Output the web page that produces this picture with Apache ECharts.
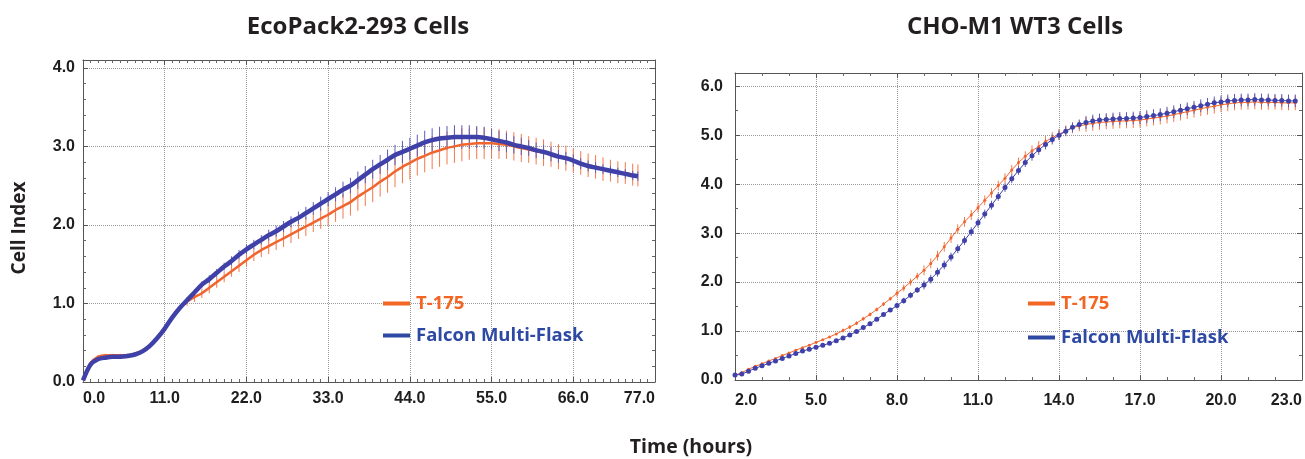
<!DOCTYPE html>
<html>
<head>
<meta charset="utf-8">
<script src="https://cdn.jsdelivr.net/npm/echarts@6/dist/echarts.min.js"></script>
<style>
  html, body { margin: 0; padding: 0; background: #fff; }
  #chart { width: 1305px; height: 459px; }
</style>
</head>
<body>
<div id="chart"></div>
<script>
// ==================== Data: EcoPack2-293 (left panel), hourly ====================
const ecoTimes = [
  0, 1, 2, 3, 4, 5, 6, 7, 8, 9, 10, 11, 12, 13, 14, 15, 16, 17, 18, 19,
  20, 21, 22, 23, 24, 25, 26, 27, 28, 29, 30, 31, 32, 33, 34, 35, 36, 37, 38, 39,
  40, 41, 42, 43, 44, 45, 46, 47, 48, 49, 50, 51, 52, 53, 54, 55, 56, 57, 58, 59,
  60, 61, 62, 63, 64, 65, 66, 67, 68, 69, 70, 71, 72, 73, 74, 74.7
];
const ecoT175 = [
  0.02, 0.24, 0.32, 0.34, 0.34, 0.34, 0.34, 0.36, 0.40, 0.47, 0.56, 0.68, 0.82, 0.93, 1.02, 1.08, 1.13, 1.20, 1.27, 1.34,
  1.41, 1.48, 1.55, 1.62, 1.68, 1.73, 1.78, 1.83, 1.88, 1.93, 1.98, 2.03, 2.08, 2.13, 2.19, 2.24, 2.29, 2.36, 2.42, 2.48,
  2.55, 2.61, 2.68, 2.74, 2.79, 2.84, 2.88, 2.92, 2.95, 2.98, 3.00, 3.02, 3.03, 3.04, 3.04, 3.04, 3.03, 3.02, 3.00, 2.98,
  2.96, 2.94, 2.92, 2.90, 2.87, 2.85, 2.82, 2.79, 2.76, 2.74, 2.71, 2.69, 2.67, 2.66, 2.64, 2.63
];
const ecoT175Sd = [
  0.02, 0.02, 0.02, 0.02, 0.02, 0.02, 0.02, 0.02, 0.02, 0.02, 0.02, 0.02, 0.03, 0.03, 0.05, 0.06, 0.06, 0.07, 0.07, 0.07,
  0.07, 0.08, 0.08, 0.08, 0.09, 0.10, 0.10, 0.11, 0.11, 0.11, 0.12, 0.12, 0.13, 0.14, 0.15, 0.16, 0.17, 0.18, 0.18, 0.19,
  0.19, 0.20, 0.20, 0.21, 0.21, 0.21, 0.21, 0.21, 0.21, 0.21, 0.21, 0.21, 0.20, 0.20, 0.20, 0.19, 0.19, 0.18, 0.18, 0.18,
  0.17, 0.17, 0.17, 0.16, 0.16, 0.16, 0.15, 0.15, 0.15, 0.15, 0.15, 0.14, 0.14, 0.14, 0.14, 0.14
];
const ecoFalcon = [
  0.02, 0.22, 0.29, 0.31, 0.32, 0.32, 0.33, 0.35, 0.39, 0.46, 0.56, 0.68, 0.82, 0.94, 1.04, 1.14, 1.24, 1.31, 1.39, 1.47,
  1.54, 1.62, 1.69, 1.75, 1.81, 1.87, 1.92, 1.98, 2.04, 2.09, 2.15, 2.21, 2.27, 2.33, 2.39, 2.45, 2.50, 2.57, 2.64, 2.71,
  2.77, 2.83, 2.89, 2.93, 2.97, 3.01, 3.05, 3.08, 3.10, 3.11, 3.12, 3.12, 3.12, 3.12, 3.11, 3.09, 3.07, 3.05, 3.02, 3.00,
  2.98, 2.95, 2.93, 2.90, 2.87, 2.85, 2.82, 2.78, 2.75, 2.73, 2.71, 2.69, 2.67, 2.65, 2.63, 2.62
];
const ecoFalconSd = [
  0.02, 0.02, 0.02, 0.02, 0.02, 0.02, 0.02, 0.02, 0.02, 0.02, 0.02, 0.02, 0.02, 0.03, 0.04, 0.04, 0.04, 0.05, 0.05, 0.05,
  0.06, 0.06, 0.06, 0.06, 0.06, 0.07, 0.07, 0.07, 0.07, 0.08, 0.08, 0.08, 0.09, 0.09, 0.09, 0.10, 0.10, 0.11, 0.11, 0.12,
  0.12, 0.13, 0.13, 0.14, 0.14, 0.14, 0.15, 0.15, 0.15, 0.15, 0.15, 0.15, 0.15, 0.14, 0.14, 0.13, 0.13, 0.12, 0.11, 0.11,
  0.10, 0.10, 0.09, 0.09, 0.08, 0.08, 0.08, 0.07, 0.07, 0.07, 0.06, 0.06, 0.06, 0.06, 0.06, 0.06
];

// ==================== Data: CHO-M1 WT3 (right panel), every 15 min from 2.0 h ====================
const choStart = 2.0;
const choStep = 0.25;
const choT175 = [
  0.10, 0.15, 0.22, 0.28, 0.33, 0.39, 0.44, 0.50, 0.55, 0.61, 0.66, 0.71, 0.77, 0.82, 0.88, 0.94,
  1.01, 1.08, 1.16, 1.25, 1.34, 1.44, 1.55, 1.66, 1.77, 1.88, 2.00, 2.12, 2.24, 2.38, 2.54, 2.72,
  2.90, 3.08, 3.23, 3.37, 3.52, 3.67, 3.82, 3.97, 4.12, 4.29, 4.44, 4.57, 4.68, 4.77, 4.87, 4.95,
  5.02, 5.09, 5.15, 5.19, 5.22, 5.24, 5.26, 5.27, 5.28, 5.29, 5.29, 5.30, 5.31, 5.33, 5.35, 5.37,
  5.39, 5.42, 5.45, 5.48, 5.51, 5.54, 5.57, 5.59, 5.62, 5.64, 5.66, 5.67, 5.67, 5.68, 5.67, 5.67,
  5.67, 5.66, 5.66, 5.66
];
const choT175Sd = [
  0.02, 0.02, 0.02, 0.02, 0.02, 0.02, 0.02, 0.02, 0.02, 0.02, 0.02, 0.02, 0.02, 0.02, 0.02, 0.02,
  0.04, 0.04, 0.04, 0.04, 0.04, 0.04, 0.04, 0.04, 0.07, 0.07, 0.07, 0.07, 0.10, 0.10, 0.10, 0.10,
  0.10, 0.10, 0.10, 0.10, 0.10, 0.10, 0.10, 0.10, 0.10, 0.10, 0.10, 0.10, 0.11, 0.11, 0.11, 0.11,
  0.11, 0.11, 0.11, 0.11, 0.15, 0.15, 0.15, 0.15, 0.15, 0.15, 0.15, 0.15, 0.15, 0.15, 0.15, 0.15,
  0.15, 0.15, 0.15, 0.15, 0.15, 0.15, 0.15, 0.15, 0.15, 0.15, 0.15, 0.15, 0.15, 0.15, 0.15, 0.15,
  0.15, 0.15, 0.15, 0.15
];
const choFalcon = [
  0.10, 0.12, 0.18, 0.24, 0.29, 0.34, 0.39, 0.44, 0.49, 0.54, 0.59, 0.63, 0.67, 0.71, 0.75, 0.80,
  0.86, 0.92, 0.99, 1.07, 1.15, 1.24, 1.34, 1.43, 1.52, 1.62, 1.73, 1.84, 1.94, 2.06, 2.20, 2.35,
  2.51, 2.68, 2.85, 3.03, 3.21, 3.39, 3.57, 3.75, 3.93, 4.11, 4.28, 4.44, 4.58, 4.70, 4.81, 4.91,
  5.00, 5.08, 5.16, 5.22, 5.26, 5.29, 5.31, 5.32, 5.33, 5.34, 5.34, 5.35, 5.36, 5.38, 5.40, 5.42,
  5.45, 5.48, 5.51, 5.54, 5.57, 5.60, 5.63, 5.66, 5.68, 5.70, 5.71, 5.72, 5.72, 5.73, 5.72, 5.72,
  5.71, 5.71, 5.70, 5.70
];
const choFalconSd = [
  0.02, 0.02, 0.02, 0.02, 0.02, 0.02, 0.02, 0.02, 0.02, 0.02, 0.02, 0.02, 0.02, 0.02, 0.02, 0.02,
  0.04, 0.04, 0.04, 0.04, 0.04, 0.04, 0.04, 0.04, 0.06, 0.06, 0.06, 0.06, 0.09, 0.09, 0.09, 0.09,
  0.09, 0.09, 0.09, 0.09, 0.09, 0.09, 0.09, 0.09, 0.09, 0.09, 0.09, 0.09, 0.10, 0.10, 0.10, 0.10,
  0.10, 0.10, 0.10, 0.10, 0.13, 0.13, 0.13, 0.13, 0.13, 0.13, 0.13, 0.13, 0.13, 0.13, 0.13, 0.13,
  0.13, 0.13, 0.13, 0.13, 0.13, 0.13, 0.13, 0.13, 0.13, 0.13, 0.13, 0.13, 0.13, 0.13, 0.13, 0.13,
  0.13, 0.13, 0.13, 0.13
];
// hours after choStart (x axis is shifted so ticks land on 2, 5, 8 ...)
const choOffsets = choFalcon.map((_, i) => i * choStep);

// ==================== Styling ====================
const ORANGE = '#f0652f';
const BLUE = '#3f41a8';
const ORANGE_TEXT = '#f26522';
const BLUE_TEXT = '#2e49a3';
const FONT_TEXT = '"Open Sans", "Noto Sans", sans-serif';
const FONT_TICK = '"Liberation Sans", Arial, sans-serif';

function pairs(xs, ys) {
  return xs.map((x, i) => [x, ys[i]]);
}

function errorBars(name, axisIdx, xs, vals, sds, color) {
  return {
    type: 'custom',
    name: name,
    xAxisIndex: axisIdx,
    yAxisIndex: axisIdx,
    silent: true,
    clip: true,
    encode: { x: 0, y: [1, 2] },
    data: xs.map((x, i) => [x, vals[i] - sds[i], vals[i] + sds[i]]),
    renderItem(params, api) {
      const lo = api.coord([api.value(0), api.value(1)]);
      const hi = api.coord([api.value(0), api.value(2)]);
      return {
        type: 'line',
        shape: { x1: lo[0], y1: lo[1], x2: hi[0], y2: hi[1] },
        style: { stroke: color, lineWidth: 1 }
      };
    }
  };
}

const tickLabel = {
  fontFamily: FONT_TICK, fontWeight: 'bold', fontSize: 16, color: '#1e1e1e'
};
const axisLine = { show: true, onZero: false, lineStyle: { color: '#555555', width: 1 } };
const axisTick = { show: true, inside: true, length: 5, lineStyle: { color: '#555555' } };
const minorTickStyle = { color: '#666666' };
const gridDots = { show: true, lineStyle: { type: 'dotted', color: '#9a9a9a', width: 1 } };

function xAxisPair(gridIdx, max, interval, minorSplit, labelFn, margin) {
  const base = { type: 'value', gridIndex: gridIdx, min: 0, max: max, interval: interval };
  return [
    Object.assign({}, base, {
      position: 'bottom',
      axisLine, axisTick,
      minorTick: { show: true, splitNumber: minorSplit, length: 3, lineStyle: minorTickStyle },
      splitLine: gridDots,
      axisLabel: Object.assign({}, tickLabel, {
        margin: margin, formatter: labelFn,
        alignMinLabel: 'left', alignMaxLabel: 'right'
      })
    }),
    Object.assign({}, base, {
      position: 'top',
      axisLine, axisTick,
      minorTick: { show: true, splitNumber: minorSplit, length: 3, lineStyle: minorTickStyle },
      splitLine: { show: false },
      axisLabel: { show: false }
    })
  ];
}

function yAxisPair(gridIdx, max, minorSplit, margin) {
  const base = { type: 'value', gridIndex: gridIdx, min: 0, max: max, interval: 1 };
  const fmt = v => (Math.abs(v - Math.round(v)) < 1e-6 ? v.toFixed(1) : '');
  return [
    Object.assign({}, base, {
      position: 'left',
      axisLine, axisTick,
      minorTick: { show: true, splitNumber: minorSplit, length: 3, lineStyle: minorTickStyle },
      splitLine: gridDots,
      axisLabel: Object.assign({}, tickLabel, { margin: margin, formatter: fmt })
    }),
    Object.assign({}, base, {
      position: 'right',
      axisLine, axisTick,
      minorTick: { show: true, splitNumber: minorSplit, length: 3, lineStyle: minorTickStyle },
      splitLine: { show: false },
      axisLabel: { show: false }
    })
  ];
}

const ecoX = xAxisPair(0, 77, 11, 11, v => v.toFixed(1), 9);
const choX = xAxisPair(1, 21, 3, 3, v => (v + choStart).toFixed(1), 13);
const ecoY = yAxisPair(0, 4.1, 5, 8);
const choY = yAxisPair(1, 6.27, 2, 12);

function legendAt(left, top, gap) {
  return {
    left: left, top: top, orient: 'vertical',
    icon: 'rect', itemWidth: 27, itemHeight: 4, itemGap: gap,
    selectedMode: false,
    textStyle: { fontFamily: FONT_TEXT, fontWeight: 'bold', fontSize: 18.5, padding: [0, 0, 0, 1] },
    data: [
      { name: 'T-175', itemStyle: { color: ORANGE_TEXT }, textStyle: { color: ORANGE_TEXT } },
      { name: 'Falcon Multi-Flask', itemStyle: { color: BLUE_TEXT }, textStyle: { color: BLUE_TEXT } }
    ]
  };
}

const option = {
  backgroundColor: '#ffffff',
  animation: false,
  grid: [
    { left: 83, top: 60, width: 572, height: 322 },
    { left: 735, top: 73, width: 567, height: 307 }
  ],
  // order: eco bottom, cho bottom, eco top, cho top
  xAxis: [ecoX[0], choX[0], ecoX[1], choX[1]],
  yAxis: [ecoY[0], choY[0], ecoY[1], choY[1]],
  legend: [legendAt(378, 289, 13), legendAt(1023, 289, 15)],
  graphic: [
    { type: 'text', x: 358, y: 27, style: { text: 'EcoPack2-293 Cells', font: 'bold 24px ' + FONT_TEXT, fill: '#231f20', align: 'center', verticalAlign: 'middle' } },
    { type: 'text', x: 1015, y: 27, style: { text: 'CHO-M1 WT3 Cells', font: 'bold 24px ' + FONT_TEXT, fill: '#231f20', align: 'center', verticalAlign: 'middle' } },
    { type: 'text', x: 20, y: 228, rotation: Math.PI / 2, style: { text: 'Cell Index', font: 'bold 19px ' + FONT_TEXT, fill: '#231f20', align: 'center', verticalAlign: 'middle' } },
    { type: 'text', x: 691, y: 447, style: { text: 'Time (hours)', font: 'bold 19.5px ' + FONT_TEXT, fill: '#231f20', align: 'center', verticalAlign: 'middle' } }
  ],
  series: [
    // left panel
    errorBars('eco-t175-sd', 0, ecoTimes, ecoT175, ecoT175Sd, '#f3784a'),
    {
      type: 'line', name: 'T-175', xAxisIndex: 0, yAxisIndex: 0,
      data: pairs(ecoTimes, ecoT175), smooth: 0.3, showSymbol: false,
      lineStyle: { color: ORANGE, width: 2.5 }, itemStyle: { color: ORANGE }
    },
    errorBars('eco-falcon-sd', 0, ecoTimes, ecoFalcon, ecoFalconSd, '#5b5cb8'),
    {
      type: 'line', name: 'Falcon Multi-Flask', xAxisIndex: 0, yAxisIndex: 0,
      data: pairs(ecoTimes, ecoFalcon), smooth: 0.3, showSymbol: false,
      lineStyle: { color: BLUE, width: 4.5 }, itemStyle: { color: BLUE }
    },
    // right panel
    errorBars('cho-t175-sd', 1, choOffsets, choT175, choT175Sd, '#f3784a'),
    {
      type: 'line', name: 'T-175', xAxisIndex: 1, yAxisIndex: 1,
      data: pairs(choOffsets, choT175), symbol: 'circle', symbolSize: 3, showSymbol: true,
      lineStyle: { color: ORANGE, width: 1 }, itemStyle: { color: ORANGE }
    },
    errorBars('cho-falcon-sd', 1, choOffsets, choFalcon, choFalconSd, '#5b5cb8'),
    {
      type: 'line', name: 'Falcon Multi-Flask', xAxisIndex: 1, yAxisIndex: 1,
      data: pairs(choOffsets, choFalcon), symbol: 'circle', symbolSize: 5, showSymbol: true,
      lineStyle: { color: BLUE, width: 1 }, itemStyle: { color: BLUE }
    }
  ]
};

const chart = echarts.init(document.getElementById('chart'), null, { renderer: 'canvas' });
chart.setOption(option);
</script>
</body>
</html>
